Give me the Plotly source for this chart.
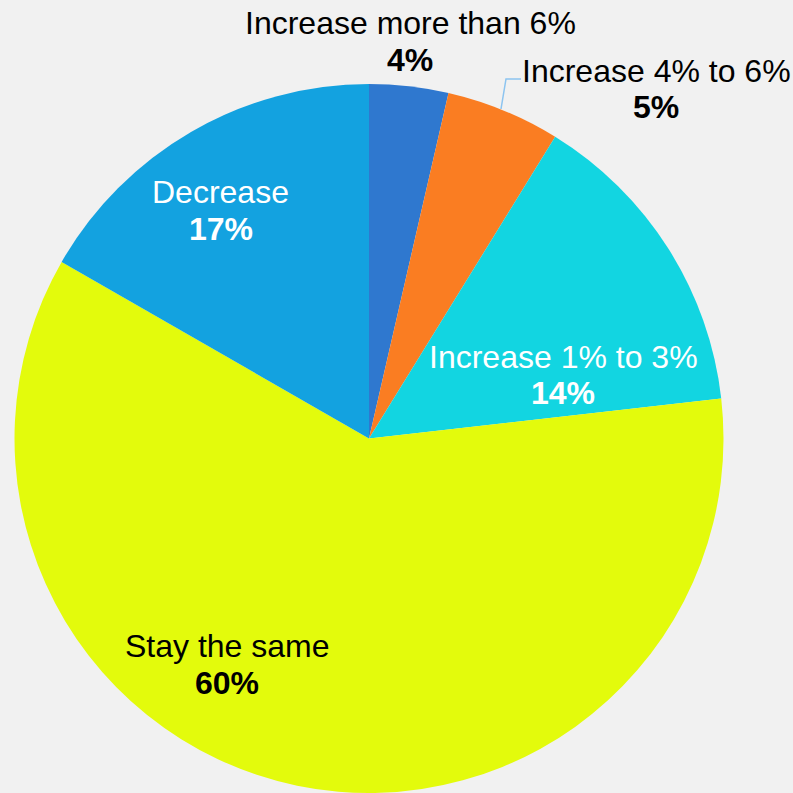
import plotly.graph_objects as go

categories = ["Increase more than 6%", "Increase 4% to 6%", "Increase 1% to 3%", "Stay the same", "Decrease"]
values = [3.6, 5.2, 14.4, 60.1, 16.7]
colors = ["#2f78cf", "#fa7d22", "#12d5e1", "#e3fb0c", "#13a2e0"]
text_colors = ["black", "black", "white", "black", "white"]
# label placement (pixel centers in the 793x793 page) for label line and value line
label_pos = [(410, 23, 60), (656, 71, 107), (563, 357, 393), (227, 646, 683), (221, 192, 229)]

W = H = 793
FONT = "Liberation Sans, Arial, sans-serif"
FS = 32

fig = go.Figure(go.Pie(
    labels=categories,
    values=values,
    sort=False,
    direction="clockwise",
    rotation=0,
    marker=dict(colors=colors, line=dict(width=0)),
    textinfo="none",
    hoverinfo="label+percent",
    domain=dict(x=[14 / W, 724 / W], y=[0, 1 - 84 / H]),
    showlegend=False,
))

total = sum(values)
annotations = []
for cat, v, tc, (px, py1, py2) in zip(categories, values, text_colors, label_pos):
    pct = round(v / total * 100)
    annotations.append(dict(x=px / W, y=1 - py1 / H, xref="paper", yref="paper",
                            text=cat, showarrow=False, xanchor="center", yanchor="middle",
                            font=dict(family=FONT, size=FS, color=tc)))
    annotations.append(dict(x=px / W, y=1 - py2 / H, xref="paper", yref="paper",
                            text=f"<b>{pct}%</b>", showarrow=False, xanchor="center", yanchor="middle",
                            font=dict(family=FONT, size=FS, color=tc)))

fig.update_layout(
    width=W, height=H,
    margin=dict(l=0, r=0, t=0, b=0),
    paper_bgcolor="#f1f1f1",
    plot_bgcolor="#f1f1f1",
    annotations=annotations,
    shapes=[dict(type="path", xref="paper", yref="paper",
                 path=f"M {501 / W} {1 - 109 / H} L {506 / W} {1 - 79 / H} L {521 / W} {1 - 79 / H}",
                 line=dict(color="#8cc4f0", width=1.5))],
)

fig.write_html("out.html",
               config={"displayModeBar": False},
               post_script="document.body.style.margin='0';document.body.style.background='#f1f1f1';")
